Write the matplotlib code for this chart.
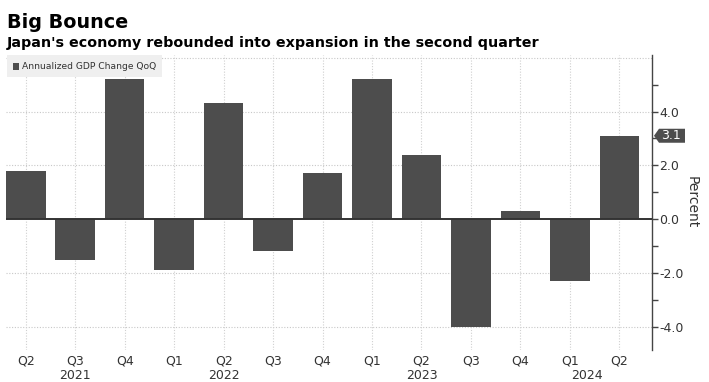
import matplotlib
matplotlib.use("Agg")
import matplotlib.pyplot as plt
from matplotlib.patches import Rectangle, Polygon
import numpy as np

quarters = ["Q2", "Q3", "Q4", "Q1", "Q2", "Q3", "Q4", "Q1", "Q2", "Q3", "Q4", "Q1", "Q2"]
gdp_change = [1.8, -1.5, 5.2, -1.9, 4.3, -1.2, 1.7, 5.2, 2.4, -4.0, 0.3, -2.3, 3.1]
years = ["2021", "2022", "2023", "2024"]
year_pos = [1, 4, 8, 11.35]
yticks = [-4.0, -2.0, 0.0, 2.0, 4.0]
latest_label = "3.1"

W, H = 709, 382
fig = plt.figure(figsize=(W / 100, H / 100), dpi=100)
fig.patch.set_facecolor("white")

def fx(px):
    return px / W

def fy(py):
    return 1 - py / H

ax = fig.add_axes([fx(6), fy(350), fx(652) - fx(6), fy(55) - fy(350)])
ax.set_facecolor("white")
x = np.arange(len(gdp_change))
bar_color = "#4d4d4d"
ax.bar(x, gdp_change, width=0.8, color=bar_color, zorder=3)
ax.axhline(0, color="#333333", lw=1.4, zorder=4)

ax.set_xlim(-0.4, 12.66)
ax.set_ylim(-4.86, 6.1)

# grid
for yv in [-4, -2, 2, 4, 6]:
    ax.axhline(yv, color="#c8c8c8", lw=0.8, ls=(0, (1, 1.5)), zorder=1)
for xv in x:
    ax.axvline(xv, color="#d0d0d0", lw=0.8, ls=(0, (1, 1.5)), zorder=1)

for s in ["left", "top", "bottom"]:
    ax.spines[s].set_visible(False)
ax.spines["right"].set_color("#444444")
ax.spines["right"].set_linewidth(1.0)

ax.yaxis.tick_right()
ax.yaxis.set_label_position("right")
ax.set_yticks(yticks)
ax.set_yticklabels([f"{v:.1f}" for v in yticks])
ax.set_yticks([-3, -1, 1, 3, 5], minor=True)
ax.tick_params(axis="y", which="both", direction="out", length=4, width=1,
               color="#444444", labelsize=9, labelcolor="#333333", pad=1)
ax.set_ylabel("Percent", rotation=270, fontsize=10, color="#333333", labelpad=11)

ax.set_xticks(x)
ax.set_xticklabels(quarters)
ax.tick_params(axis="x", length=0, labelsize=9, labelcolor="#333333", pad=3)
for yr, p in zip(years, year_pos):
    ax.text(p, -0.087, yr, transform=ax.get_xaxis_transform(), ha="center", va="center",
            fontsize=9, color="#333333")

# value tag (drawn in figure pixel coordinates from the data value)
y_disp = ax.transData.transform((0, gdp_change[-1]))[1]
ty = H - y_disp  # pixel from top
tag = Polygon([(fx(654), fy(ty)), (fx(659), fy(ty - 7)), (fx(685), fy(ty - 7)),
               (fx(685), fy(ty + 7)), (fx(659), fy(ty + 7))],
              closed=True, transform=fig.transFigure, fc="#4d4d4d", ec="none")
fig.patches.append(tag)
fig.text(fx(671), fy(ty), latest_label, fontsize=9, color="white", ha="center", va="center")

# titles
fig.text(fx(7), fy(27.5), "Big Bounce", fontsize=13.8, fontweight="bold", color="black",
         ha="left", va="baseline")
fig.text(fx(7), fy(47), "Japan's economy rebounded into expansion in the second quarter",
         fontsize=10.3, fontweight="bold", color="black", ha="left", va="baseline")

# legend
fig.patches.append(Rectangle((fx(7), fy(77)), fx(162) - fx(7), fy(55) - fy(77),
                             transform=fig.transFigure, fc="#efefef", ec="none", zorder=5))
fig.patches.append(Rectangle((fx(12.5), fy(69.5)), fx(6.5), fy(63) - fy(69.5),
                             transform=fig.transFigure, fc=bar_color, ec="none", zorder=6))
fig.text(fx(21.5), fy(66.5), "Annualized GDP Change QoQ", fontsize=6.6, color="#333333",
         ha="left", va="center", zorder=7)

fig.savefig("out.png", dpi=100, facecolor="white")
